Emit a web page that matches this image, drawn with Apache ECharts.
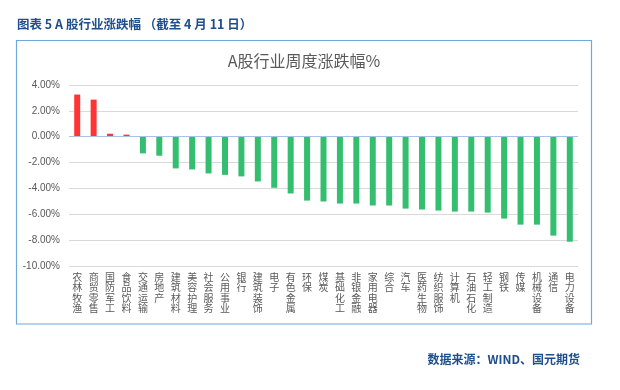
<!DOCTYPE html>
<html>
<head>
<meta charset="utf-8">
<script src="https://cdn.jsdelivr.net/npm/echarts@6/dist/echarts.min.js"></script>
<style>
html,body{margin:0;padding:0;background:#fff;}
#chart{width:620px;height:390px;}
</style>
</head>
<body>
<div id="chart"></div>
<script>
const categories = ['农林牧渔','商贸零售','国防军工','食品饮料','交通运输','房地产','建筑材料','美容护理','社会服务','公用事业','银行','建筑装饰','电子','有色金属','环保','煤炭','基础化工','非银金融','家用电器','综合','汽车','医药生物','纺织服饰','计算机','石油石化','轻工制造','钢铁','传媒','机械设备','通信','电力设备'];
const values = [3.26, 2.87, 0.23, 0.16, -1.29, -1.47, -2.45, -2.53, -2.84, -2.95, -3.07, -3.46, -3.95, -4.39, -4.94, -5.01, -5.17, -5.17, -5.32, -5.32, -5.56, -5.63, -5.71, -5.79, -5.79, -5.87, -6.33, -6.80, -6.80, -7.65, -8.12];
const yTicks = { min: -10, max: 4, interval: 2 };
const chartTitle = 'A股行业周度涨跌幅%';
const headerText = '图表 5 A 股行业涨跌幅 （截至 4 月 11 日）';
const footerText = '数据来源：WIND、国元期货';

const chart = echarts.init(document.getElementById('chart'), null, {renderer: 'canvas'});
const CJK = '"Noto Sans CJK SC", "Noto Sans", sans-serif';
chart.setOption({
  animation: false,
  backgroundColor: '#fff',
  grid: { left: 69, right: 42, top: 85, bottom: 124 },
  xAxis: {
    type: 'category',
    data: categories,
    position: 'bottom',
    axisLine: { show: false, onZero: false },
    axisTick: { show: false },
    axisLabel: {
      interval: 0,
      margin: 6,
      color: '#595959',
      fontSize: 10,
      lineHeight: 10.3,
      fontFamily: CJK,
      verticalAlign: 'top',
      formatter: v => v.split('').join('\n')
    }
  },
  yAxis: {
    type: 'value',
    min: yTicks.min, max: yTicks.max, interval: yTicks.interval,
    axisLine: { show: false },
    axisTick: { show: false },
    splitLine: { lineStyle: { color: '#D9D9D9', width: 1 } },
    axisLabel: {
      color: '#595959', fontSize: 10, margin: 9,
      fontFamily: 'Arial, "Liberation Sans", sans-serif',
      formatter: v => v.toFixed(2) + '%'
    }
  },
  series: [{
    type: 'bar',
    data: values.map(v => ({ value: v, itemStyle: { color: v >= 0 ? '#FF3535' : '#34BE70' } })),
    barWidth: 6,
    markLine: {
      silent: true,
      symbol: 'none',
      label: { show: false },
      lineStyle: { color: '#A9C1E3', width: 1, type: 'solid' },
      data: [{ yAxis: 0 }]
    }
  }],
  graphic: [
    { type: 'rect', shape: { x: 16.5, y: 40.5, width: 575, height: 283.5 }, style: { fill: 'none', stroke: '#6FA8DC', lineWidth: 1.2 }, z: 10 },
    { type: 'text', x: 304, y: 61, style: { text: chartTitle, fill: '#595959', font: '16px ' + CJK, textAlign: 'center', textVerticalAlign: 'middle' } },
    { type: 'text', x: 17, y: 24, style: { text: headerText, fill: '#1F4E8C', font: 'bold 12.5px ' + CJK, textAlign: 'left', textVerticalAlign: 'middle' } },
    { type: 'text', x: 580, y: 359, style: { text: footerText, fill: '#1F4E8C', font: 'bold 12px ' + CJK, textAlign: 'right', textVerticalAlign: 'middle' } }
  ]
});
</script>
</body>
</html>
